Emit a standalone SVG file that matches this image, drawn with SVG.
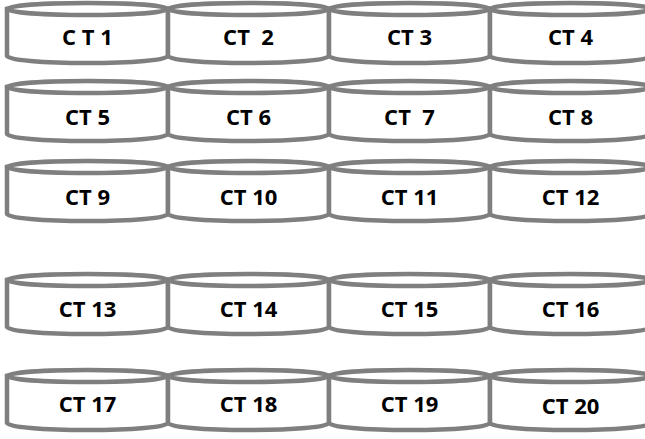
<svg xmlns="http://www.w3.org/2000/svg" width="645" height="439" viewBox="0 0 645 439">
<defs>
<style>
.shape { fill: #ffffff; stroke: #7f7f7f; stroke-width: 4.5; }
.cyl text { font-family: "Open Sans", "Liberation Sans", sans-serif; font-weight: 700; font-size: 22px; fill: #000000; text-anchor: middle; white-space: pre; }
</style>
<g id="cylinder">
<path class="shape" d="M0,0 L0,47 A80.5,7 0 0 0 161,47 L161,0 Z"/>
<ellipse class="shape" cx="80.5" cy="0" rx="80.5" ry="6"/>
</g>
</defs>
<rect width="645" height="439" fill="#ffffff"/>
<g id="connectors"></g>

<g id="ct1" class="cyl" transform="translate(7,9)"><use href="#cylinder"/><text x="80.5" y="36" xml:space="preserve">C T 1</text></g>
<g id="ct2" class="cyl" transform="translate(168,9)"><use href="#cylinder"/><text x="80.5" y="36" xml:space="preserve">CT  2</text></g>
<g id="ct3" class="cyl" transform="translate(329,9)"><use href="#cylinder"/><text x="80.5" y="36">CT 3</text></g>
<g id="ct4" class="cyl" transform="translate(490,9)"><use href="#cylinder"/><text x="80.5" y="36">CT 4</text></g>

<g id="ct5" class="cyl" transform="translate(7,87)"><use href="#cylinder"/><text x="80.5" y="38">CT 5</text></g>
<g id="ct6" class="cyl" transform="translate(168,87)"><use href="#cylinder"/><text x="80.5" y="38">CT 6</text></g>
<g id="ct7" class="cyl" transform="translate(329,87)"><use href="#cylinder"/><text x="80.5" y="38" xml:space="preserve">CT  7</text></g>
<g id="ct8" class="cyl" transform="translate(490,87)"><use href="#cylinder"/><text x="80.5" y="38">CT 8</text></g>

<g id="ct9" class="cyl" transform="translate(7,167)"><use href="#cylinder"/><text x="80.5" y="38">CT 9</text></g>
<g id="ct10" class="cyl" transform="translate(168,167)"><use href="#cylinder"/><text x="80.5" y="38">CT 10</text></g>
<g id="ct11" class="cyl" transform="translate(329,167)"><use href="#cylinder"/><text x="80.5" y="38">CT 11</text></g>
<g id="ct12" class="cyl" transform="translate(490,167)"><use href="#cylinder"/><text x="80.5" y="38">CT 12</text></g>

<g id="ct13" class="cyl" transform="translate(7,280)"><use href="#cylinder"/><text x="80.5" y="37">CT 13</text></g>
<g id="ct14" class="cyl" transform="translate(168,280)"><use href="#cylinder"/><text x="80.5" y="37">CT 14</text></g>
<g id="ct15" class="cyl" transform="translate(329,280)"><use href="#cylinder"/><text x="80.5" y="37">CT 15</text></g>
<g id="ct16" class="cyl" transform="translate(490,280)"><use href="#cylinder"/><text x="80.5" y="37">CT 16</text></g>

<g id="ct17" class="cyl" transform="translate(7,376)"><use href="#cylinder"/><text x="80.5" y="36">CT 17</text></g>
<g id="ct18" class="cyl" transform="translate(168,376)"><use href="#cylinder"/><text x="80.5" y="36">CT 18</text></g>
<g id="ct19" class="cyl" transform="translate(329,376)"><use href="#cylinder"/><text x="80.5" y="36">CT 19</text></g>
<g id="ct20" class="cyl" transform="translate(490,376)"><use href="#cylinder"/><text x="80.5" y="38">CT 20</text></g>
</svg>
